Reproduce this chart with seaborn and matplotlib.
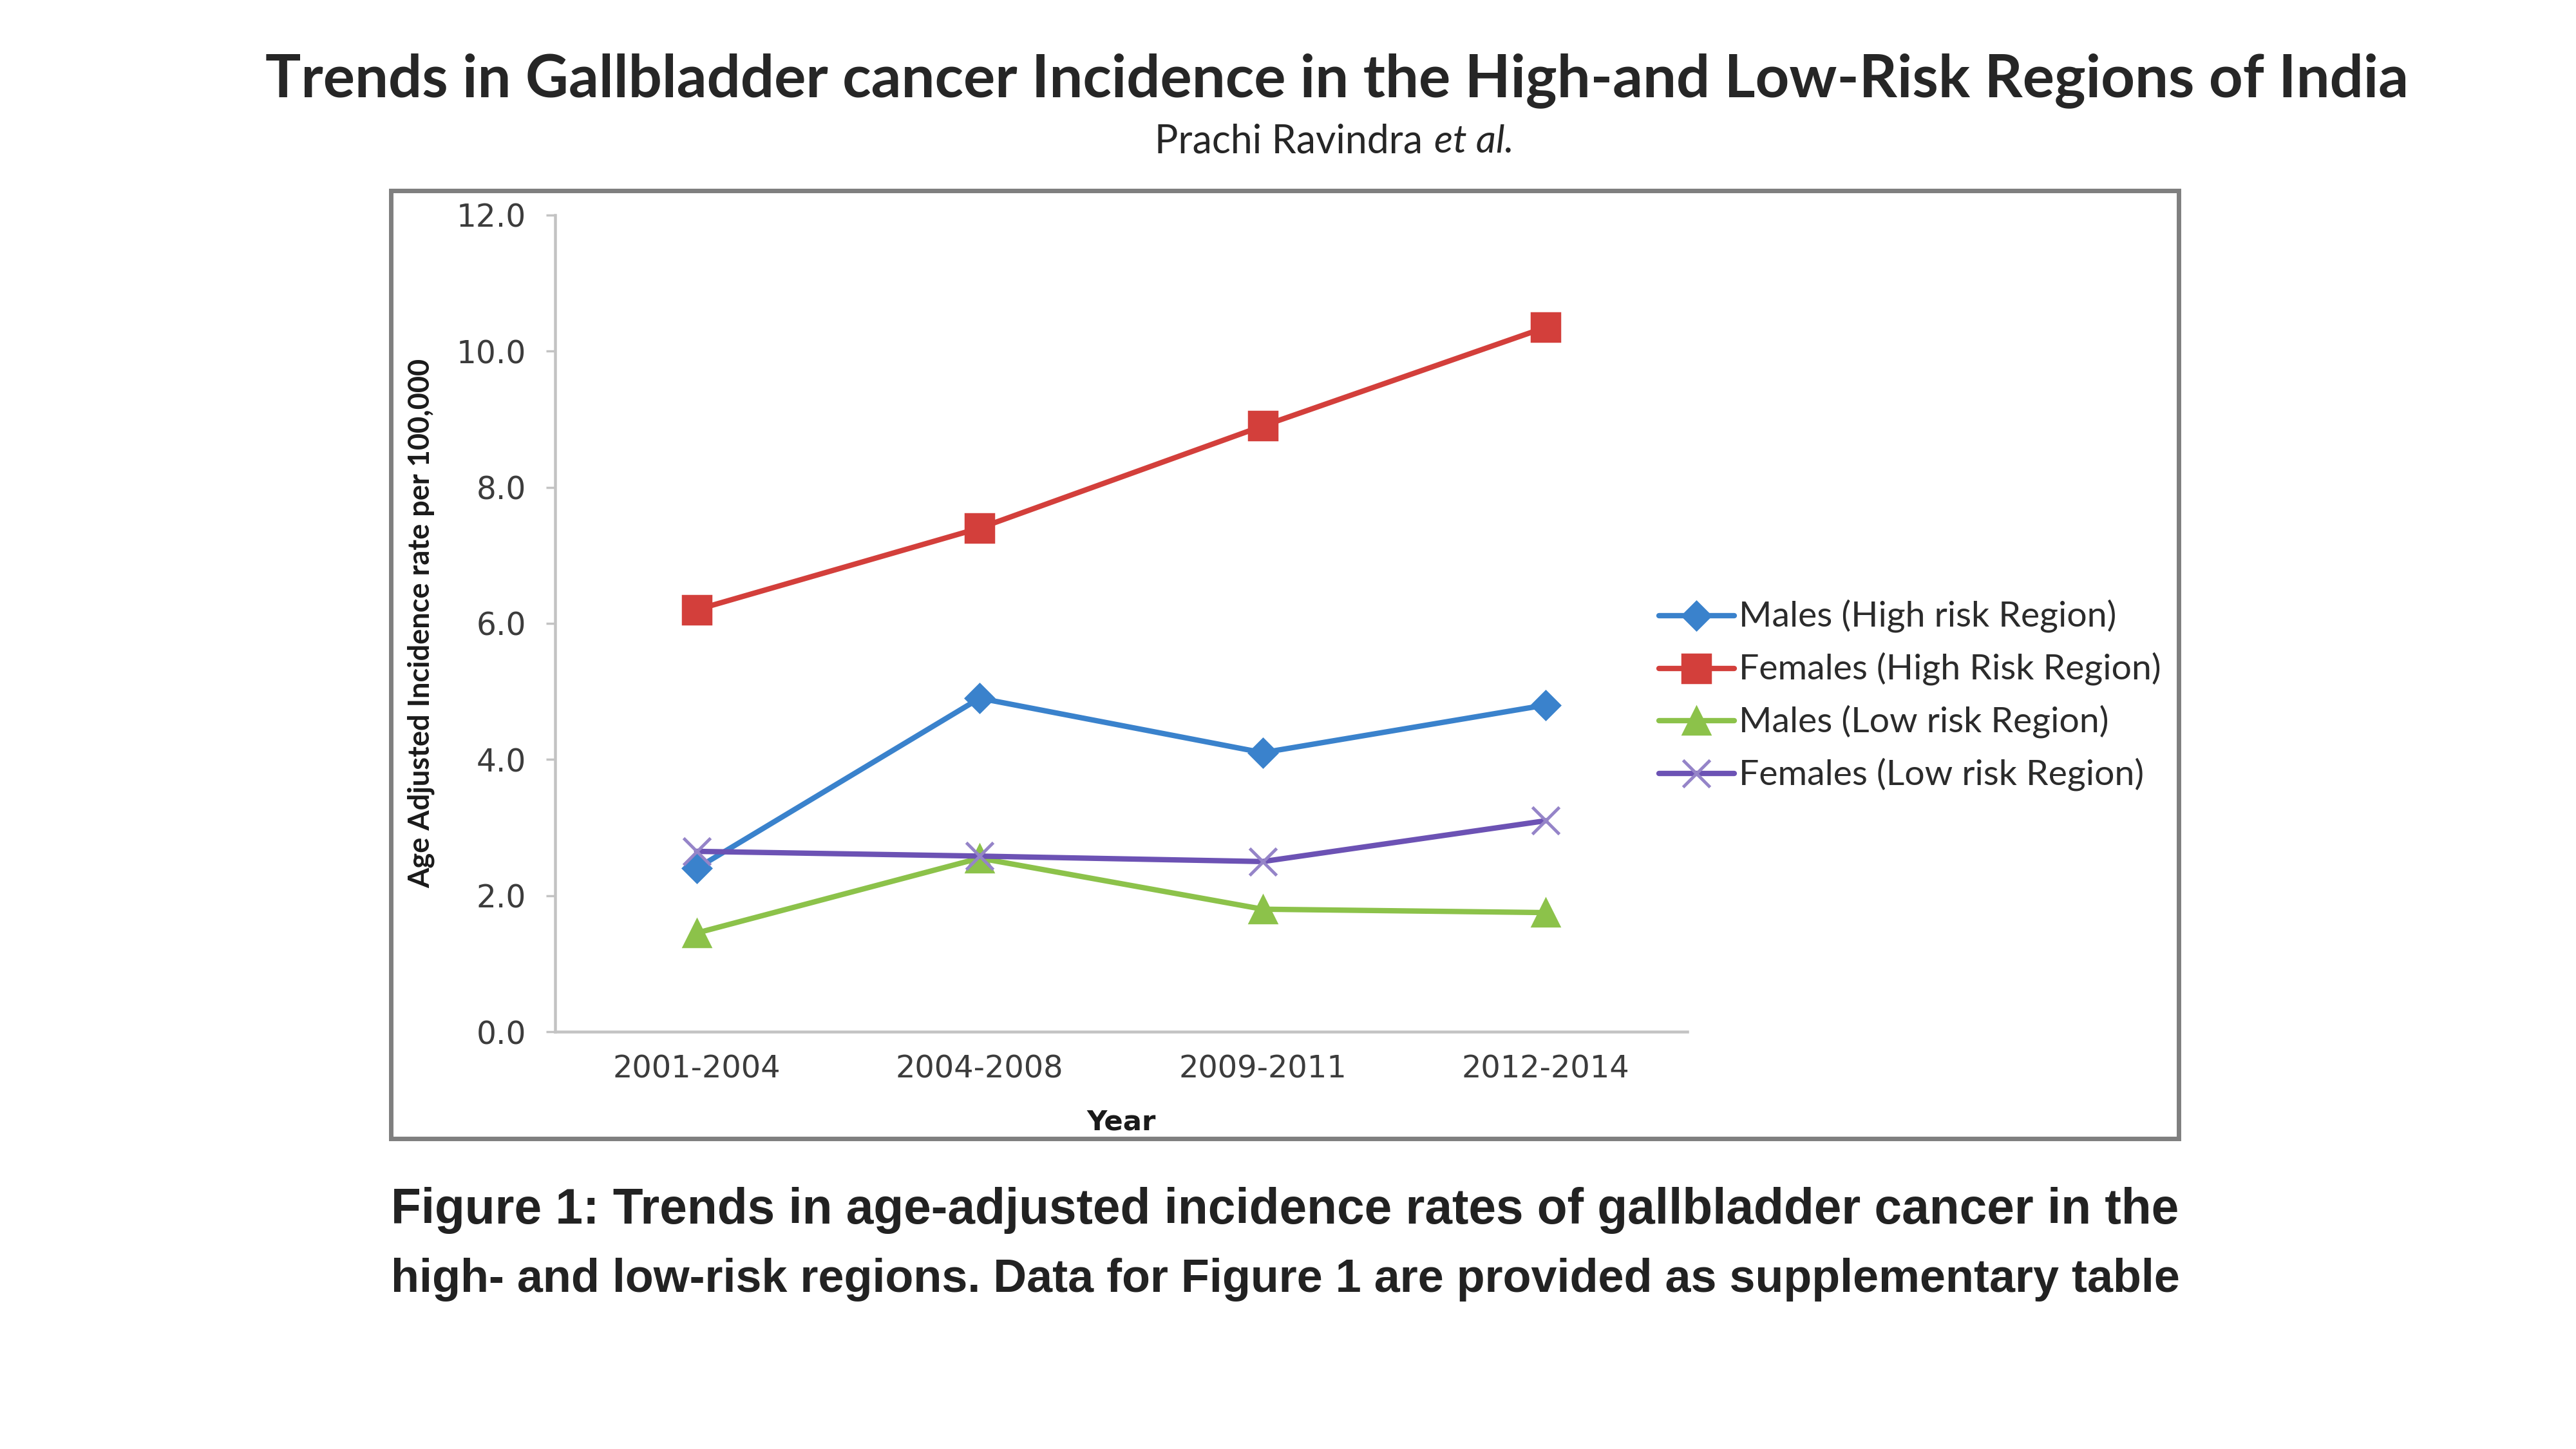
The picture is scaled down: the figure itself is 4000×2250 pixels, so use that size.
import numpy as np
import pandas as pd
import matplotlib
matplotlib.use('Agg')
import matplotlib.pyplot as plt
import seaborn as sns
from matplotlib.patches import Rectangle
import warnings

warnings.filterwarnings('ignore')

# ================= data =================
periods = ['2001-2004', '2004-2008', '2009-2011', '2012-2014']
males_high = [2.4, 4.9, 4.1, 4.8]
females_high = [6.2, 7.4, 8.9, 10.35]
males_low = [1.45, 2.55, 1.8, 1.75]
females_low = [2.65, 2.58, 2.5, 3.1]
series_names = ['Males (High risk Region)', 'Females (High Risk Region)',
                'Males (Low risk Region)', 'Females (Low risk Region)']
y_ticks = [0, 2, 4, 6, 8, 10, 12]

title_text = 'Trends in Gallbladder cancer Incidence in the High-and Low-Risk Regions of India'
caption_1 = 'Figure 1: Trends in age-adjusted incidence rates of gallbladder cancer in the'
caption_2 = 'high- and low-risk regions. Data for Figure 1 are provided as supplementary table'

df = pd.DataFrame({
    'Year': periods * 4,
    'Rate': males_high + females_high + males_low + females_low,
    'Series': np.repeat(series_names, len(periods)),
})

# ================= style =================
sns.set_style("white")
plt.rcParams['font.family'] = ['DejaVu Sans']

styles = {
    series_names[0]: dict(color='#3A82CC', marker='D', markersize=9, mec='#3A82CC'),
    series_names[1]: dict(color='#D33F3B', marker='s', markersize=12.5, mec='#D33F3B'),
    series_names[2]: dict(color='#8CC24A', marker='^', markersize=12, mec='#8CC24A'),
    series_names[3]: dict(color='#6C52B4', marker='x', markersize=12, mec='#9584C8'),
}

fig = plt.figure(figsize=(16, 9), dpi=250)
ax = fig.add_axes([0.2155, 0.288, 0.4395, 0.5636])

for name in series_names:
    st = styles[name]
    sns.lineplot(data=df[df['Series'] == name], x='Year', y='Rate', ax=ax,
                 color=st['color'], marker=st['marker'], markersize=st['markersize'],
                 markeredgecolor=st['mec'], markeredgewidth=1.4 if st['marker'] == 'x' else 1.0,
                 linewidth=2.4, errorbar=None, label=name)

ax.set_xlim(-0.5, len(periods) - 0.5)
ax.set_ylim(0, 12)
ax.set_yticks(y_ticks)
ax.set_yticklabels([f'{v:.1f}' for v in y_ticks])

for side in ['top', 'right']:
    ax.spines[side].set_visible(False)
for side in ['left', 'bottom']:
    ax.spines[side].set_color('#C3C3C3')
    ax.spines[side].set_linewidth(1.3)

ax.tick_params(axis='y', length=4, width=1, color='#C3C3C3', pad=9,
               labelsize=14, labelcolor='#3C3C3C', direction='out', left=True)
ax.tick_params(axis='x', length=0, pad=10, labelsize=13.8, labelcolor='#3C3C3C')

ax.set_xlabel('Year', fontsize=12.5, fontweight='bold', color='#1A1A1A')
ax.xaxis.set_label_coords(0.5, -0.094)
ax.set_ylabel('Age Adjusted Incidence rate per 100,000', fontsize=11,
              fontweight='bold', family=['Lato', 'DejaVu Sans'], color='#1A1A1A')
ax.yaxis.set_label_coords(-0.106, 0.5)

leg = ax.legend(loc='center left', bbox_to_anchor=(0.644, 0.5204),
                bbox_transform=fig.transFigure, frameon=False, borderpad=0,
                borderaxespad=0, handlelength=2.4, handletextpad=0.15,
                labelspacing=0.62, prop={'family': ['Lato', 'DejaVu Sans'], 'size': 14})
for t in leg.get_texts():
    t.set_color('#2B2B2B')

# image frame around the chart
fig.patches.append(Rectangle((0.1518, 0.2142), 0.694, 0.6542, transform=fig.transFigure,
                             fill=False, edgecolor='#7F7F7F', linewidth=2.0))

# ================= slide texts =================
title = fig.text(0.519, 0.933, title_text, ha='center', va='baseline',
                 fontsize=25, fontweight='bold', family=['Lato', 'DejaVu Sans'])
sub1 = fig.text(0.5523, 0.8946, 'Prachi Ravindra', ha='right', va='baseline',
                fontsize=15, family=['Lato', 'DejaVu Sans'])
sub2 = fig.text(0.5568, 0.8946, 'et al.', ha='left', va='baseline',
                fontsize=15, style='italic', family=['Lato', 'DejaVu Sans'])
cap1 = fig.text(0.1518, 1 - 1900 / 2250, caption_1, ha='left', va='baseline',
                fontsize=20, fontweight='bold', color='#222222',
                family=['Liberation Sans Narrow', 'Liberation Sans', 'DejaVu Sans'])
cap2 = fig.text(0.1518, 1 - 2006 / 2250, caption_2, ha='left', va='baseline',
                fontsize=20, fontweight='bold', color='#222222',
                family=['Liberation Sans Narrow', 'Liberation Sans', 'DejaVu Sans'])

# size texts to the widths measured on the reference
fig.canvas.draw()
renderer = fig.canvas.get_renderer()


def fit(txt, target_px, use_height=False):
    bb = txt.get_window_extent(renderer)
    cur = bb.height if use_height else bb.width
    txt.set_fontsize(txt.get_fontsize() * target_px / cur)


fit(title, 3330)
fit(sub1, 416)
sub2.set_fontsize(sub1.get_fontsize())
fit(cap1, 2778)
fit(cap2, 2778)
fit(ax.yaxis.label, 826, use_height=True)

leg_w = max(t.get_window_extent(renderer).width for t in leg.get_texts())
for t in leg.get_texts():
    t.set_fontsize(t.get_fontsize() * 656 / leg_w)

fig.savefig('out.png', dpi=250, facecolor='white')
